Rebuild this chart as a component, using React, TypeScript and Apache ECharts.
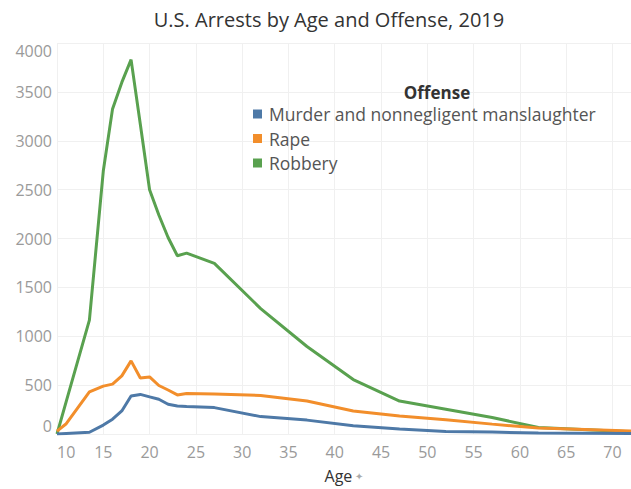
import React, { useEffect, useRef } from "react";
import * as echarts from "echarts";

const ages = [10, 11, 13.5, 15, 16, 17, 18, 19, 20, 21, 22, 23, 24, 27, 32, 37, 42, 47, 52, 57, 62, 72];
const murder = [0, 5, 18, 91, 152, 236, 388, 405, 380, 355, 304, 287, 282, 270, 178, 142, 84, 51, 26, 20, 10, 5];
const rape = [30, 105, 430, 490, 510, 595, 748, 573, 584, 496, 450, 400, 415, 408, 395, 337, 236, 185, 145, 101, 61, 30];
const robbery = [0, 333, 1165, 2690, 3326, 3597, 3830, 3168, 2498, 2240, 2010, 1823, 1850, 1746, 1283, 895, 557, 337, 253, 168, 67, 23];

const seriesNames = ["Murder and nonnegligent manslaughter", "Rape", "Robbery"];
const seriesColors = ["#4e79a7", "#f28e2b", "#59a14f"];
const seriesValues = [murder, rape, robbery];

const FONT = "'Open Sans', 'Noto Sans', sans-serif";

export default function App() {
  const ref = useRef<HTMLDivElement>(null);
  useEffect(() => {
    if (!ref.current) return;
    const chart = echarts.init(ref.current, null, { renderer: "svg" });
    chart.setOption({
      animation: false,
      backgroundColor: "#ffffff",
      textStyle: { fontFamily: FONT },
      graphic: [
        {
          type: "text",
          x: 329,
          y: 19,
          z: 100,
          style: {
            text: "U.S. Arrests by Age and Offense, 2019",
            fontSize: 20,
            fontWeight: 500,
            fontFamily: FONT,
            fill: "#333333",
            textAlign: "center",
            textVerticalAlign: "middle",
          },
        },
        {
          type: "text",
          x: 437,
          y: 92,
          z: 100,
          style: {
            text: "Offense",
            fontSize: 17,
            fontWeight: "bold",
            fontFamily: FONT,
            fill: "#333333",
            textAlign: "center",
            textVerticalAlign: "middle",
          },
        },
      ],
      legend: {
        data: seriesNames,
        orient: "vertical",
        left: 248,
        top: 99,
        itemWidth: 9,
        itemHeight: 9,
        itemGap: 4.5,
        icon: "rect",
        z: 100,
        textStyle: {
          fontSize: 17.5,
          color: "#555555",
          fontFamily: FONT,
          lineHeight: 20,
          padding: [0, 0, 0, 2],
        },
      },
      grid: { left: 57, right: 0, top: 43, bottom: 51, containLabel: false },
      xAxis: {
        type: "value",
        min: 10,
        max: 72,
        interval: 5,
        axisLine: { show: false },
        axisTick: { show: false },
        splitLine: { show: true, lineStyle: { color: "#f0f0f0", width: 1 } },
        axisLabel: {
          color: "#9a9a9a",
          fontSize: 16,
          margin: 10,
          showMaxLabel: false,
          alignMinLabel: "left",
          fontFamily: FONT,
        },
        name: "{a|Age} {p|✦}",
        nameLocation: "middle",
        nameGap: 34,
        nameTextStyle: {
          rich: {
            a: { fontSize: 16, color: "#333333", fontFamily: FONT },
            p: { fontSize: 10, color: "#aaaaaa", fontFamily: FONT },
          },
        },
      },
      yAxis: {
        type: "value",
        min: 0,
        max: 4000,
        interval: 500,
        axisLine: { show: false },
        axisTick: { show: false },
        splitLine: { show: true, lineStyle: { color: "#f0f0f0", width: 1 } },
        axisLabel: {
          color: "#9a9a9a",
          fontSize: 16,
          margin: 5,
          formatter: (v: number) => String(v),
          verticalAlignMinLabel: "bottom",
          verticalAlignMaxLabel: "top",
          fontFamily: FONT,
        },
      },
      series: seriesNames.map((name, i) => ({
        name,
        type: "line",
        data: ages.map((a, j) => [a, seriesValues[i][j]]),
        showSymbol: false,
        symbol: "none",
        smooth: false,
        clip: true,
        lineStyle: { color: seriesColors[i], width: 3 },
        itemStyle: { color: seriesColors[i] },
        z: 2 + (2 - i),
      })),
    });
    return () => chart.dispose();
  }, []);
  return (
    <div
      ref={ref}
      style={{ position: "absolute", left: 0, top: 0, width: 631, height: 489 }}
    />
  );
}
